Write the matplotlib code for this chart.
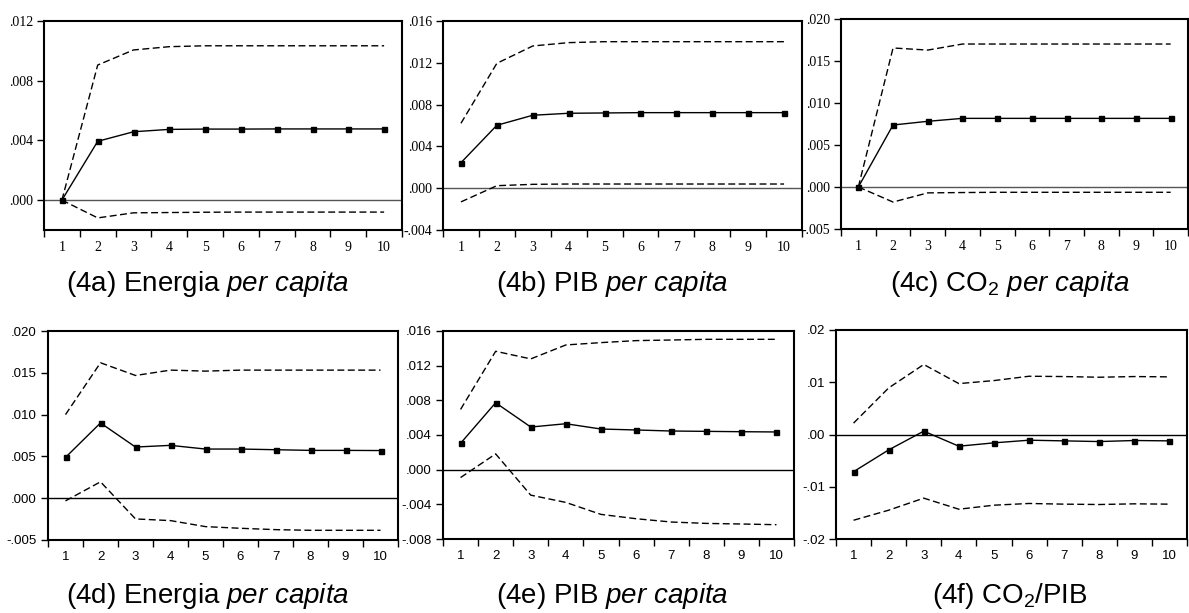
import matplotlib
matplotlib.use("Agg")
import matplotlib.pyplot as plt
import numpy as np

plt.rcParams['mathtext.fontset'] = 'custom'
plt.rcParams['mathtext.rm'] = 'Liberation Sans'
plt.rcParams['mathtext.it'] = 'Liberation Sans:italic'
plt.rcParams['font.family'] = ['Liberation Sans', 'DejaVu Sans']

periods = [1, 2, 3, 4, 5, 6, 7, 8, 9, 10]

# (4a) Energia per capita
a_mean = [0.0, 0.00394, 0.00458, 0.00474, 0.00476, 0.00476, 0.00477, 0.00477, 0.00477, 0.00477]
a_up = [0.0, 0.00905, 0.01006, 0.01028, 0.01034, 0.01034, 0.01034, 0.01034, 0.01034, 0.01034]
a_lo = [0.0, -0.00119, -0.00085, -0.00083, -0.00081, -0.00080, -0.00080, -0.00080, -0.00080, -0.00080]
a_ticks = [0.0, 0.004, 0.008, 0.012]
a_labels = ['.000', '.004', '.008', '.012']

# (4b) PIB per capita
b_mean = [0.00244, 0.00602, 0.00698, 0.00717, 0.00720, 0.00723, 0.00723, 0.00723, 0.00723, 0.00723]
b_up = [0.00621, 0.01195, 0.01361, 0.01393, 0.01402, 0.01402, 0.01402, 0.01402, 0.01402, 0.01402]
b_lo = [-0.00131, 0.00024, 0.00037, 0.00040, 0.00040, 0.00040, 0.00040, 0.00040, 0.00040, 0.00040]
b_ticks = [-0.004, 0.0, 0.004, 0.008, 0.012, 0.016]
b_labels = ['-.004', '.000', '.004', '.008', '.012', '.016']

# (4c) CO2 per capita
c_mean = [0.0, 0.00738, 0.00782, 0.00817, 0.00817, 0.00817, 0.00817, 0.00817, 0.00817, 0.00817]
c_up = [0.0, 0.01655, 0.01630, 0.01702, 0.01702, 0.01702, 0.01702, 0.01702, 0.01702, 0.01702]
c_lo = [0.0, -0.00179, -0.00070, -0.00066, -0.00063, -0.00063, -0.00063, -0.00063, -0.00063, -0.00063]
c_ticks = [-0.005, 0.0, 0.005, 0.010, 0.015, 0.020]
c_labels = ['-.005', '.000', '.005', '.010', '.015', '.020']

# (4d) Energia per capita
d_mean = [0.00488, 0.00900, 0.00612, 0.00632, 0.00588, 0.00588, 0.00580, 0.00572, 0.00572, 0.00570]
d_up = [0.01000, 0.01620, 0.01468, 0.01532, 0.01520, 0.01532, 0.01532, 0.01532, 0.01532, 0.01532]
d_lo = [-0.00032, 0.00196, -0.00248, -0.00268, -0.00340, -0.00360, -0.00376, -0.00384, -0.00384, -0.00384]
d_ticks = [-0.005, 0.0, 0.005, 0.010, 0.015, 0.020]
d_labels = ['-.005', '.000', '.005', '.010', '.015', '.020']

# (4e) PIB per capita
e_mean = [0.00304, 0.00772, 0.00492, 0.00530, 0.00469, 0.00458, 0.00446, 0.00442, 0.00438, 0.00435]
e_up = [0.00695, 0.01366, 0.01278, 0.01439, 0.01466, 0.01489, 0.01496, 0.01504, 0.01504, 0.01504]
e_lo = [-0.00091, 0.00182, -0.00294, -0.00378, -0.00516, -0.00566, -0.00604, -0.00620, -0.00627, -0.00635]
e_ticks = [-0.008, -0.004, 0.0, 0.004, 0.008, 0.012, 0.016]
e_labels = ['-.008', '-.004', '.000', '.004', '.008', '.012', '.016']

# (4f) CO2/PIB
f_mean = [-0.00712, -0.00295, 0.00064, -0.00224, -0.00160, -0.00109, -0.00122, -0.00135, -0.00115, -0.00122]
f_up = [0.00218, 0.00891, 0.01340, 0.00974, 0.01032, 0.01115, 0.01109, 0.01096, 0.01109, 0.01103]
f_lo = [-0.01641, -0.01449, -0.01218, -0.01430, -0.01353, -0.01320, -0.01333, -0.01340, -0.01327, -0.01333]
f_ticks = [-0.02, -0.01, 0.0, 0.01, 0.02]
f_labels = ['-.02', '-.01', '.00', '.01', '.02']

captions = [r"(4a) Energia $\mathit{per}$ $\mathit{capita}$",
            r"(4b) PIB $\mathit{per}$ $\mathit{capita}$",
            r"(4c) CO$_2$ $\mathit{per}$ $\mathit{capita}$",
            r"(4d) Energia $\mathit{per}$ $\mathit{capita}$",
            r"(4e) PIB $\mathit{per}$ $\mathit{capita}$",
            r"(4f) CO$_2$/PIB"]

W, H = 1189, 613
fig = plt.figure(figsize=(W / 100, H / 100), dpi=100)

# pixel boxes: left, right, top, bottom
boxes = [(44, 402, 21, 230), (443, 802, 21, 230), (841, 1188, 19, 229),
         (48, 398, 331, 540), (443, 794, 331, 539), (836, 1187, 330, 539)]
cap_pos = [(208, 284), (612, 284), (1010, 284), (208, 596), (612, 596), (1010, 596)]

panels = [(a_mean, a_up, a_lo, a_ticks, a_labels),
          (b_mean, b_up, b_lo, b_ticks, b_labels),
          (c_mean, c_up, c_lo, c_ticks, c_labels),
          (d_mean, d_up, d_lo, d_ticks, d_labels),
          (e_mean, e_up, e_lo, e_ticks, e_labels),
          (f_mean, f_up, f_lo, f_ticks, f_labels)]
ylims = [(-0.002, 0.012), (-0.004, 0.016), (-0.005, 0.020),
         (-0.005, 0.020), (-0.008, 0.016), (-0.02, 0.02)]

for i, ((m, up, lo, yt, yl), (l, r, t, b)) in enumerate(zip(panels, boxes)):
    ax = fig.add_axes([l / W, 1 - b / H, (r - l) / W, (b - t) / H])
    top_row = i < 3
    tick_font = 'Liberation Serif' if top_row else 'Liberation Sans'
    tick_size = 10 if top_row else 9.5
    zero_col = '#555555' if top_row else 'black'
    ax.axhline(0, color=zero_col, lw=1.0, zorder=1)
    ax.plot(periods, up, color='black', lw=1.0, dashes=(5, 2.5), zorder=2)
    ax.plot(periods, lo, color='black', lw=1.0, dashes=(5, 2.5), zorder=2)
    ax.plot(periods, m, color='black', lw=1.0, marker='s', ms=3.6, zorder=3)
    ax.set_xlim(0.5, 10.5)
    ax.set_ylim(*ylims[i])
    ax.set_xticks(periods)
    ax.set_xticklabels([str(p) for p in periods], fontfamily=tick_font, fontsize=tick_size)
    ax.set_xticks(np.arange(0.5, 11.0, 1.0), minor=True)
    ax.tick_params(axis='x', which='major', length=0, pad=8)
    ax.tick_params(axis='x', which='minor', length=5, width=1.0, direction='out')
    ax.set_yticks(yt)
    ax.set_yticklabels(yl, fontfamily=tick_font, fontsize=tick_size)
    ax.tick_params(axis='y', length=5, width=1.0, direction='out', pad=3)
    for s in ax.spines.values():
        s.set_linewidth(1.5)
    cx, cy = cap_pos[i]
    fig.text(cx / W, 1 - cy / H, captions[i], ha='center', va='center', fontsize=20)

fig.savefig('out.png', dpi=100)
